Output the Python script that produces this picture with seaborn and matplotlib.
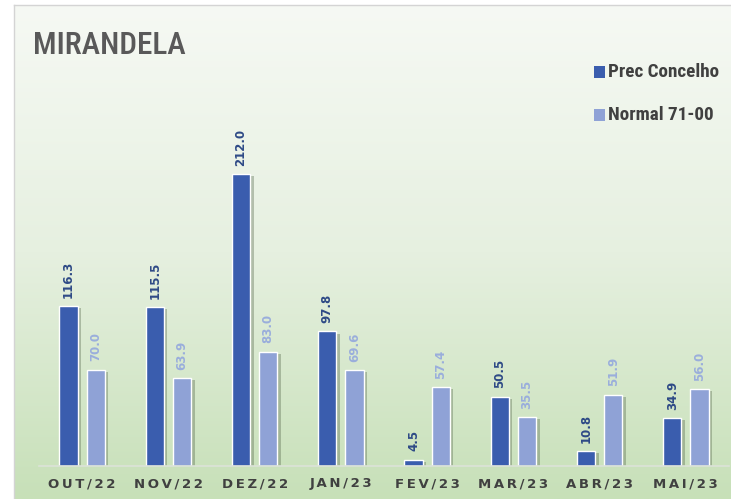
import numpy as np
import pandas as pd
import matplotlib
matplotlib.use("Agg")
import matplotlib.pyplot as plt
import matplotlib.patheffects as pe
from matplotlib import font_manager
import seaborn as sns

# ---- data ----
months = ["OUT/22", "NOV/22", "DEZ/22", "JAN/23", "FEV/23", "MAR/23", "ABR/23", "MAI/23"]
prec_concelho = [116.3, 115.5, 212.0, 97.8, 4.5, 50.5, 10.8, 34.9]
normal_71_00 = [70.0, 63.9, 83.0, 69.6, 57.4, 35.5, 51.9, 56.0]
series_names = ["Prec Concelho", "Normal 71-00"]

DARK = "#3A5DAE"
LIGHT = "#8FA2D6"

df = pd.DataFrame({
    "month": months * 2,
    "value": prec_concelho + normal_71_00,
    "series": [series_names[0]] * len(months) + [series_names[1]] * len(months),
})

sns.set_style("white")
plt.rcParams["font.family"] = ["DejaVu Sans"]

# pick a narrow font for title / legend if one is around
names = {f.name for f in font_manager.fontManager.ttflist}
narrow = None
for cand in ["Liberation Sans Narrow", "Roboto Condensed", "Open Sans Condensed", "DejaVu Sans"]:
    if cand in names:
        narrow = cand
        break
print("narrow font:", narrow)

W, H = 731, 499
fig = plt.figure(figsize=(W / 100, H / 100), dpi=100)
fig.patch.set_facecolor("white")

# background panel with vertical gradient (white-ish top -> green bottom)
bg = fig.add_axes([14 / W, 0, 1 - 14 / W, (H - 5) / H])
grad = np.linspace(0, 1, 256).reshape(-1, 1)
cmap = matplotlib.colors.LinearSegmentedColormap.from_list(
    "bg", ["#F6F9F4", "#E6F0E0", "#C7E0B8"])
bg.imshow(grad, aspect="auto", cmap=cmap, extent=[0, 1, 0, 1], origin="upper")
bg.set_xticks([])
bg.set_yticks([])
for s in bg.spines.values():
    s.set_color("#D4D4D4")
    s.set_linewidth(1)
bg.spines["bottom"].set_visible(False)
bg.spines["right"].set_visible(False)

# main axes, placed so baseline sits at y=466px
px_per_unit = 1.376
ytop = 300
ax_h = ytop * px_per_unit
ax = fig.add_axes([39 / W, (H - 466) / H, 690 / W, ax_h / H])
ax.patch.set_alpha(0)

sns.barplot(data=df, x="month", y="value", hue="series", order=months,
            hue_order=series_names, palette=[DARK, LIGHT], saturation=1,
            width=0.63, gap=0.33, ax=ax, legend=False)

shadow = [pe.SimplePatchShadow(offset=(2.5, -1.5), shadow_rgbFace="#4F6045", alpha=0.35),
          pe.Normal()]
for patch in ax.patches:
    patch.set_path_effects(shadow)

label_colors = ["#2E4A86", "#9AAEDC"]
for cont, col in zip(ax.containers, label_colors):
    ax.bar_label(cont, fmt="%.1f", rotation=90, padding=6,
                 fontsize=8.5, fontweight="bold", color=col)

ax.set_xlim(-0.5, 7.5)
ax.set_ylim(0, ytop)
ax.set_yticks([])
ax.set_xlabel("")
ax.set_ylabel("")
for s in ["top", "left", "right"]:
    ax.spines[s].set_visible(False)
ax.spines["bottom"].set_color("#DCE3D8")
ax.spines["bottom"].set_linewidth(1.2)

spaced = ["\u2009".join(m) for m in months]
ax.set_xticks(range(len(months)))
ax.set_xticklabels(spaced, fontsize=9.5, fontweight="bold", color="#404040")
ax.tick_params(axis="x", length=0, pad=8)

# title
fig.text(33 / W, 1 - 46 / H, "MIRANDELA", fontsize=22.5, fontweight="medium",
         fontstretch="condensed", color="#595959", va="center", ha="left",
         family=[narrow, "DejaVu Sans"])

# legend
for i, (name, col) in enumerate(zip(series_names, [DARK, LIGHT])):
    yy = 1 - (72 + 43 * i) / H
    fig.patches.append(matplotlib.patches.Rectangle(
        (594 / W, yy - 5.5 / H), 11 / W, 11 / H, transform=fig.transFigure,
        facecolor=col, edgecolor="none"))
    fig.text(608 / W, yy, name, fontsize=13.8, fontweight="semibold", fontstretch="condensed",
             color="#404040", va="center", ha="left",
             family=[narrow, "DejaVu Sans"])

fig.savefig("out.png", dpi=100)
